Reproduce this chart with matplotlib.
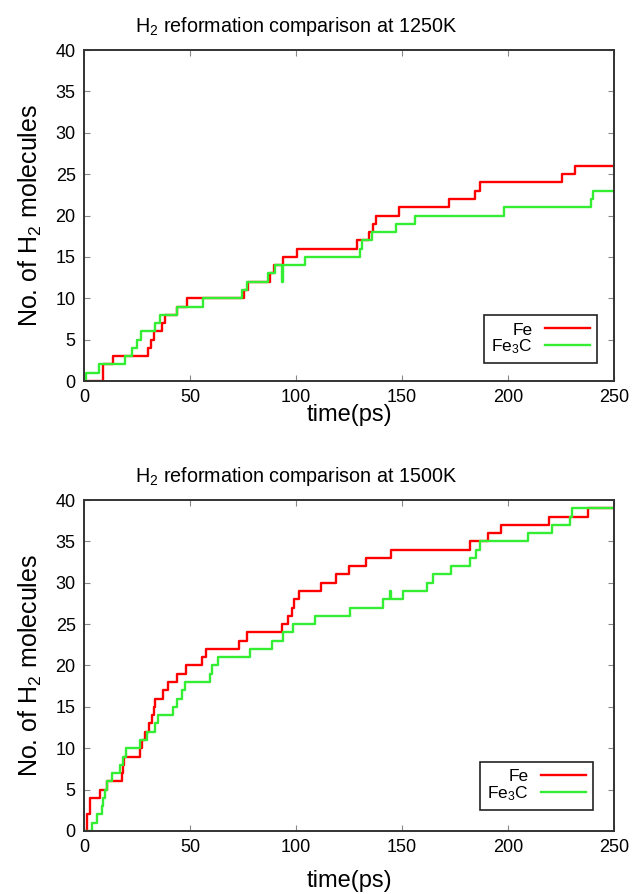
import matplotlib
matplotlib.use("Agg")
import matplotlib.pyplot as plt

# H2 count vs time (step changes)
t_fe_1250 = [0, 9, 13.8, 30.3, 31.5, 33, 37, 38, 43.7, 48.7, 75.5, 77.5, 87.7, 89.5,
             93.7, 100.3, 128.6, 134.5, 136.5, 137.5, 148.7, 172.3, 184.4, 187,
             225.3, 231.6, 250]
n_fe_1250 = [0, 2, 3, 4, 5, 6, 7, 8, 9, 10, 11, 12, 13, 14,
             15, 16, 17, 18, 19, 20, 21, 22, 23, 24,
             25, 26, 26]

t_fe3c_1250 = [0, 1, 7.2, 19.3, 22.5, 24.8, 26.7, 33.5, 35.8, 44, 56.3, 74.4, 77,
               87, 90, 93.5, 93.8, 104.2, 130.2, 131, 134, 135.7, 147.2, 156.1,
               198, 239, 240, 250]
n_fe3c_1250 = [0, 1, 2, 3, 4, 5, 6, 7, 8, 9, 10, 11, 12,
               13, 14, 12, 14, 15, 16, 17, 17, 18, 19, 20,
               21, 22, 23, 23]

t_fe_1500 = [0, 1.3, 2.8, 7.5, 10.7, 17.8, 18.3, 18.9, 26.4, 27.5, 28.8, 30.5,
             31.9, 32.8, 33.5, 37.1, 39.8, 43.7, 48.1, 55.5, 57.5, 73.3, 77,
             93.2, 96.4, 98.3, 99, 101.6, 111.6, 119, 125, 133, 144.7, 182,
             190.7, 196.5, 219.5, 237.9, 250]
n_fe_1500 = [0, 2, 4, 5, 6, 7, 8, 9, 10, 11, 12, 13,
             14, 15, 16, 17, 18, 19, 20, 21, 22, 23, 24,
             25, 26, 27, 28, 29, 30, 31, 32, 33, 34, 35,
             36, 37, 38, 39, 39]

t_fe3c_1500 = [0, 3.6, 6, 8.5, 9.1, 10, 11, 13, 17, 18.5, 19.8, 26.4, 29.5,
               33.5, 35, 41.8, 44, 46, 47.6, 59.4, 60.5, 63.4, 78.3, 88.5,
               93.7, 98.7, 109, 125.5, 140.9, 144.1, 144.6, 150.3, 161.6,
               164.8, 173, 182, 185, 186.8, 209.6, 220.6, 229, 230, 250]
n_fe3c_1500 = [0, 1, 2, 3, 4, 5, 6, 7, 8, 9, 10, 11, 12,
               13, 14, 15, 16, 17, 18, 19, 20, 21, 22, 23,
               24, 25, 26, 27, 28, 29, 28, 29, 30,
               31, 32, 33, 34, 35, 36, 37, 38, 39, 39]

panels = [
    ("1250K", t_fe_1250, n_fe_1250, t_fe3c_1250, n_fe3c_1250, (0.968, 0.054), 0),
    ("1500K", t_fe_1500, n_fe_1500, t_fe3c_1500, n_fe3c_1500, (0.960, 0.063), 12),
]

plt.rcParams['font.family'] = ['Liberation Sans', 'DejaVu Sans']
plt.rcParams['mathtext.default'] = 'regular'

fig = plt.figure(figsize=(6.34, 8.94), dpi=100)
boxes = [[0.1325, 0.5738, 0.836, 0.3702], [0.1325, 0.0705, 0.836, 0.3702]]

for (temp, t1, n1, t2, n2, leg_anchor, xpad), box in zip(panels, boxes):
    ax = fig.add_axes(box)
    ax.step(t1, n1, where='post', color='#ff0000', lw=1.7, label='Fe')
    ax.step(t2, n2, where='post', color='#33ee33', lw=1.7, label='Fe$_3$C')
    ax.set_xlim(0, 250)
    ax.set_ylim(0, 40)
    ax.set_xticks([0, 50, 100, 150, 200, 250])
    ax.set_yticks(range(0, 41, 5))
    ax.tick_params(direction='in', top=True, right=True, length=4, width=0.8,
                   color='#888888', labelsize=13, pad=6)
    for s in ax.spines.values():
        s.set_linewidth(1.4)
        s.set_color('#333333')
    ax.set_title('H$_2$ reformation comparison at ' + temp, fontsize=14.2,
                 pad=13, x=0.4)
    ax.set_xlabel('time(ps)', fontsize=17, labelpad=xpad - 2)
    ax.set_ylabel('No. of H$_2$ molecules', fontsize=18, labelpad=8)
    leg = ax.legend(loc='lower right', bbox_to_anchor=leg_anchor, borderaxespad=0,
                    markerfirst=False, fancybox=False, framealpha=1, fontsize=12.5,
                    handlelength=2.6, handletextpad=0.7, labelspacing=0.0,
                    borderpad=0.4)
    leg.get_frame().set_edgecolor('#222222')
    leg.get_frame().set_linewidth(1.2)

fig.savefig('out.png', dpi=100)
